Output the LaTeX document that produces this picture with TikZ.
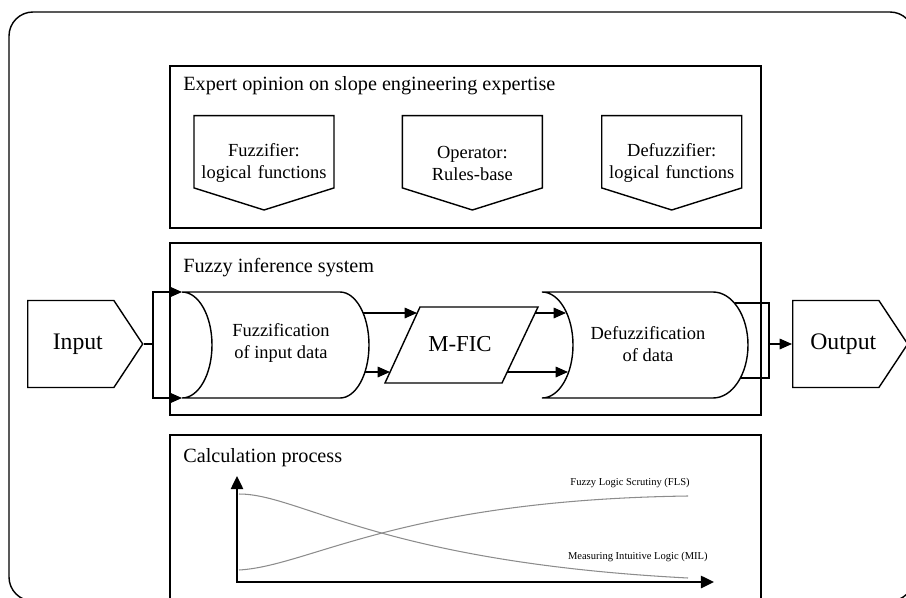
\documentclass[tikz,border=0pt]{standalone}
\usepackage{fontspec}
\setmainfont{Liberation Serif}
\usetikzlibrary{shapes, arrows.meta, positioning}
\newcommand{\lowerline}{\rule{0pt}{20pt}}
\tikzstyle{panel} = [draw=black, line width=0.9pt]
\tikzstyle{title} = [anchor=west, inner sep=0pt, font=\fontsize{11.5}{13}\selectfont]
\tikzstyle{expert} = [signal, signal to=south, signal pointer angle=145, draw=black, line width=0.8pt, minimum width=2.8cm, minimum height=1.88cm, inner xsep=0pt, inner ysep=1pt, text width=2.76cm, align=center, font=\fontsize{10.5}{12.6}\selectfont]
\tikzstyle{port} = [signal, signal to=east, signal pointer angle=113, draw=black, line width=0.8pt, minimum width=2.3cm, minimum height=1.74cm]
\tikzstyle{porttext} = [font=\fontsize{13.5}{16}\selectfont]
\tikzstyle{proc} = [align=center, font=\fontsize{10.5}{12.6}\selectfont]
\tikzstyle{core} = [font=\fontsize{13}{15}\selectfont]
\tikzstyle{line} = [line width=0.8pt]
\tikzstyle{arrow} = [line width=0.8pt, -{Triangle[length=7pt,width=6pt]}]
\tikzstyle{axis} = [line width=1.2pt, {Triangle[length=7.5pt,width=7pt]}-{Triangle[length=7.5pt,width=7pt]}]
\tikzstyle{curve} = [black!45, line width=0.6pt]
\tikzstyle{lbl} = [anchor=east, inner sep=0pt, font=\fontsize{6}{7}\selectfont]

\begin{document}
\begin{tikzpicture}[x=0.02cm, y=-0.02cm]
  \useasboundingbox (0,0) rectangle (906,598);
  \clip (0,0) rectangle (906,598);
  \draw[line width=0.8pt, rounded corners=0.48cm] (9,12) rectangle (914,601);

  % expert knowledge
  \draw[panel] (170,66) rectangle (761,228);
  \node[title] (experttitle) at (183,86) {Expert opinion on slope engineering expertise};
  \node[expert, anchor=north] (fuzzifier) at (264,115) {\lowerline Fuzzifier:\\logical functions};
  \node[expert, right=1.34cm of fuzzifier] (operator) {\lowerline Operator:\\Rules-base};
  \node[expert, right=1.16cm of operator] (defuzzifier) {\lowerline Defuzzifier:\\logical functions};

  % inference
  \draw[panel] (170,243) rectangle (761,415);
  \node[title] (fistitle) at (183,268) {Fuzzy inference system};
  \node[port, anchor=west] (input) at (27,344) {};
  \node[port, anchor=west] (output) at (792,344) {};
  \node[porttext] (inputtext) at ([xshift=0.14cm]input.center) {Input};
  \node[porttext] (outputtext) at ([xshift=0.15cm]output.center) {Output};
  \node[proc] (fuzz) at (281,343) {Fuzzification\\of input data};
  \node[core] (mfic) at (460,344) {M-FIC};
  \node[proc] (defuzz) at (648,344) {Defuzzification\\of data};

  \coordinate (split) at (153,344);
  \coordinate (fin1) at (182,292);
  \coordinate (fin2) at (182,398);
  \draw[line] (fin1) .. controls (198.6,292) and (212,315.7) .. (212,345)
    .. controls (212,374.3) and (198.6,398) .. (fin2) -- (340,398)
    .. controls (356,398) and (369,374.3) .. (369,345)
    .. controls (369,315.7) and (356,292) .. (340,292) -- cycle;
  \draw[line] (542,292) .. controls (559.1,292) and (573,315.7) .. (573,345)
    .. controls (573,374.3) and (559.1,398) .. (542,398) -- (713,398)
    .. controls (732.3,398) and (748,374.3) .. (748,345)
    .. controls (748,315.7) and (732.3,292) .. (713,292) -- cycle;
  \draw[line] (385,383) -- (420,307) -- (538,307) -- (502,383) -- cycle;

  \draw[line] (input.east) -- (split);
  \draw[arrow] (split) |- (fin1);
  \draw[arrow] (split) |- (fin2);

  \coordinate (f1) at (363,313);
  \coordinate (f2) at (365,372);
  \coordinate (m1) at (417,313);
  \coordinate (m2) at (390,372);
  \coordinate (m3) at (535,313);
  \coordinate (m4) at (507,372);
  \coordinate (d1) at (566,313);
  \coordinate (d2) at (568,372);
  \draw[arrow] (f1) -- (m1);
  \draw[arrow] (f2) -- (m2);
  \draw[arrow] (m3) -- (d1);
  \draw[arrow] (m4) -- (d2);

  \coordinate (o1) at (735,303);
  \coordinate (o2) at (740,378);
  \coordinate (join) at (769,344);
  \draw[line] (o1) -| (join) |- (o2);
  \draw[arrow] (join) -- (output.west);

  % calculation
  \draw[panel] (170,435) rectangle (761,605);
  \node[title] (calctitle) at (183,458) {Calculation process};
  \coordinate (ytop) at (237,476);
  \coordinate (origin) at (237,582);
  \coordinate (xend) at (714,582);
  \draw[axis] (ytop) -- (origin) -- (xend);
  \draw[curve] (239,570) .. controls (310,566) and (400,500) .. (688,496);
  \draw[curve] (239,494) .. controls (300,494) and (380,562) .. (688,578);
  \node[lbl] (fls) at (690,483) {Fuzzy Logic Scrutiny (FLS)};
  \node[lbl] (mil) at (708,557) {Measuring Intuitive Logic (MIL)};
\end{tikzpicture}
\end{document}
